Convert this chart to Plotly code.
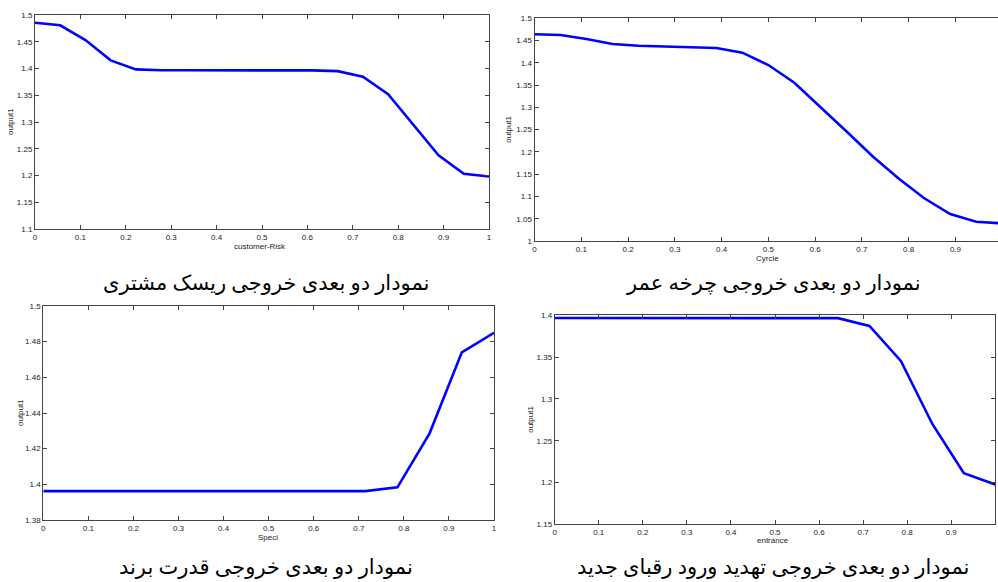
import plotly.graph_objects as go

W, H = 998, 582

# ---- data ----
x_risk = [0, 0.0556, 0.1111, 0.1667, 0.2222, 0.2778, 0.3333, 0.3889, 0.4444, 0.5,
          0.5556, 0.6111, 0.6667, 0.7222, 0.7778, 0.8333, 0.8889, 0.9444, 1.0]
y_risk = [1.4856, 1.4807, 1.4532, 1.4152, 1.3983, 1.3966, 1.3966, 1.3966, 1.3966, 1.3966,
          1.3966, 1.3965, 1.3950, 1.3845, 1.3520, 1.2950, 1.2376, 1.2034, 1.1980]

x_cycle = [0, 0.0556, 0.1111, 0.1667, 0.2222, 0.2778, 0.3333, 0.3889, 0.4444, 0.5,
           0.5556, 0.6111, 0.6667, 0.7222, 0.7778, 0.8333, 0.8889, 0.9444, 1.0]
y_cycle = [1.4641, 1.4625, 1.4535, 1.4423, 1.4385, 1.4371, 1.4356, 1.4333, 1.4228, 1.3951,
           1.3554, 1.3015, 1.2463, 1.1908, 1.1408, 1.0959, 1.0606, 1.0433, 1.0395]

x_speci = [0, 0.0714, 0.1429, 0.2143, 0.2857, 0.3571, 0.4286, 0.5, 0.5714, 0.6429,
           0.7143, 0.7857, 0.8571, 0.9286, 1.0]
y_speci = [1.3962, 1.3962, 1.3962, 1.3962, 1.3962, 1.3962, 1.3962, 1.3962, 1.3962, 1.3962,
           1.3962, 1.3983, 1.4286, 1.4740, 1.4850]

x_entr = [0, 0.0714, 0.1429, 0.2143, 0.2857, 0.3571, 0.4286, 0.5, 0.5714, 0.6429,
          0.7143, 0.7857, 0.8571, 0.9286, 1.0]
y_entr = [1.3968, 1.3968, 1.3968, 1.3968, 1.3968, 1.3968, 1.3968, 1.3968, 1.3968, 1.3966,
          1.3872, 1.3454, 1.2700, 1.2110, 1.1975]

x_titles = ["customer-Risk", "Cyrcle", "Speci", "entrance"]
y_title = "output1"
captions = ["نمودار دو بعدی خروجی ریسک مشتری", "نمودار دو بعدی خروجی چرخه عمر",
            "نمودار دو بعدی خروجی قدرت برند", "نمودار دو بعدی خروجی تهدید ورود رقبای جدید"]

# ---- layout geometry (pixels) ----
panels = [
    dict(l=35, r=489, t=15, b=229, xr=[0, 1], yr=[1.1, 1.5], dy=0.05, ymir=True,
         ytx=10, xty=246, capy=283),
    dict(l=534.5, r=998, t=18.3, b=241, xr=[0, 0.991], yr=[1.0, 1.5], dy=0.05, ymir=False,
         ytx=509, xty=258, capy=283),
    dict(l=43.3, r=494, t=306, b=520, xr=[0, 1], yr=[1.38, 1.5], dy=0.02, ymir=True,
         ytx=20, xty=537, capy=567),
    dict(l=554.7, r=995.3, t=315.3, b=524.3, xr=[0, 1], yr=[1.15, 1.4], dy=0.05, ymir=True,
         ytx=531, xty=540, capy=567),
]
cap_cx = [266, 773, 266, 773]
xt_cx = [260, 767, 268, 773]

data = [(x_risk, y_risk), (x_cycle, y_cycle), (x_speci, y_speci), (x_entr, y_entr)]

fig = go.Figure()
layout = dict(width=W, height=H, margin=dict(l=0, r=0, t=0, b=0, autoexpand=False),
              paper_bgcolor="white", plot_bgcolor="white", showlegend=False,
              font=dict(family="Liberation Sans, Arial, sans-serif", color="#222"))
annotations = []
axcol = "#444"
for i, (p, (xs, ys)) in enumerate(zip(panels, data)):
    n = "" if i == 0 else str(i + 1)
    fig.add_trace(go.Scatter(x=xs, y=ys, mode="lines",
                             line=dict(color="#0000FF", width=2.6),
                             xaxis="x" + n, yaxis="y" + n, cliponaxis=True))
    layout["xaxis" + n] = dict(
        domain=[p["l"] / W, p["r"] / W], range=p["xr"], anchor="y" + n,
        dtick=0.1, tick0=0, ticks="inside", ticklen=4, tickcolor=axcol,
        showline=True, linecolor=axcol, linewidth=1, mirror="ticks",
        showgrid=False, zeroline=False, tickfont=dict(size=8, color="#222"))
    layout["yaxis" + n] = dict(
        domain=[1 - p["b"] / H, 1 - p["t"] / H], range=p["yr"], anchor="x" + n,
        dtick=p["dy"], tick0=p["yr"][0], ticks="inside", ticklen=4, tickcolor=axcol,
        showline=True, linecolor=axcol, linewidth=1,
        mirror="ticks" if p["ymir"] else False,
        showgrid=False, zeroline=False, tickfont=dict(size=8, color="#222"))
    annotations.append(dict(text=x_titles[i], x=xt_cx[i] / W,
                            y=1 - p["xty"] / H, xref="paper", yref="paper",
                            showarrow=False, font=dict(size=8, color="#222"),
                            xanchor="center", yanchor="middle"))
    annotations.append(dict(text=y_title, x=p["ytx"] / W, y=1 - ((p["t"] + p["b"]) / 2) / H,
                            xref="paper", yref="paper", showarrow=False, textangle=-90,
                            font=dict(size=8, color="#222"), xanchor="center", yanchor="middle"))
    annotations.append(dict(text=captions[i], x=cap_cx[i] / W, y=1 - p["capy"] / H,
                            xref="paper", yref="paper", showarrow=False,
                            font=dict(size=21, color="black",
                                      family="Liberation Serif, DejaVu Sans, serif"),
                            xanchor="center", yanchor="middle"))

layout["annotations"] = annotations
fig.update_layout(**layout)
fig.write_html("out.html", config={"displayModeBar": False},
               post_script="document.body.style.margin='0';document.body.style.overflow='hidden';")
